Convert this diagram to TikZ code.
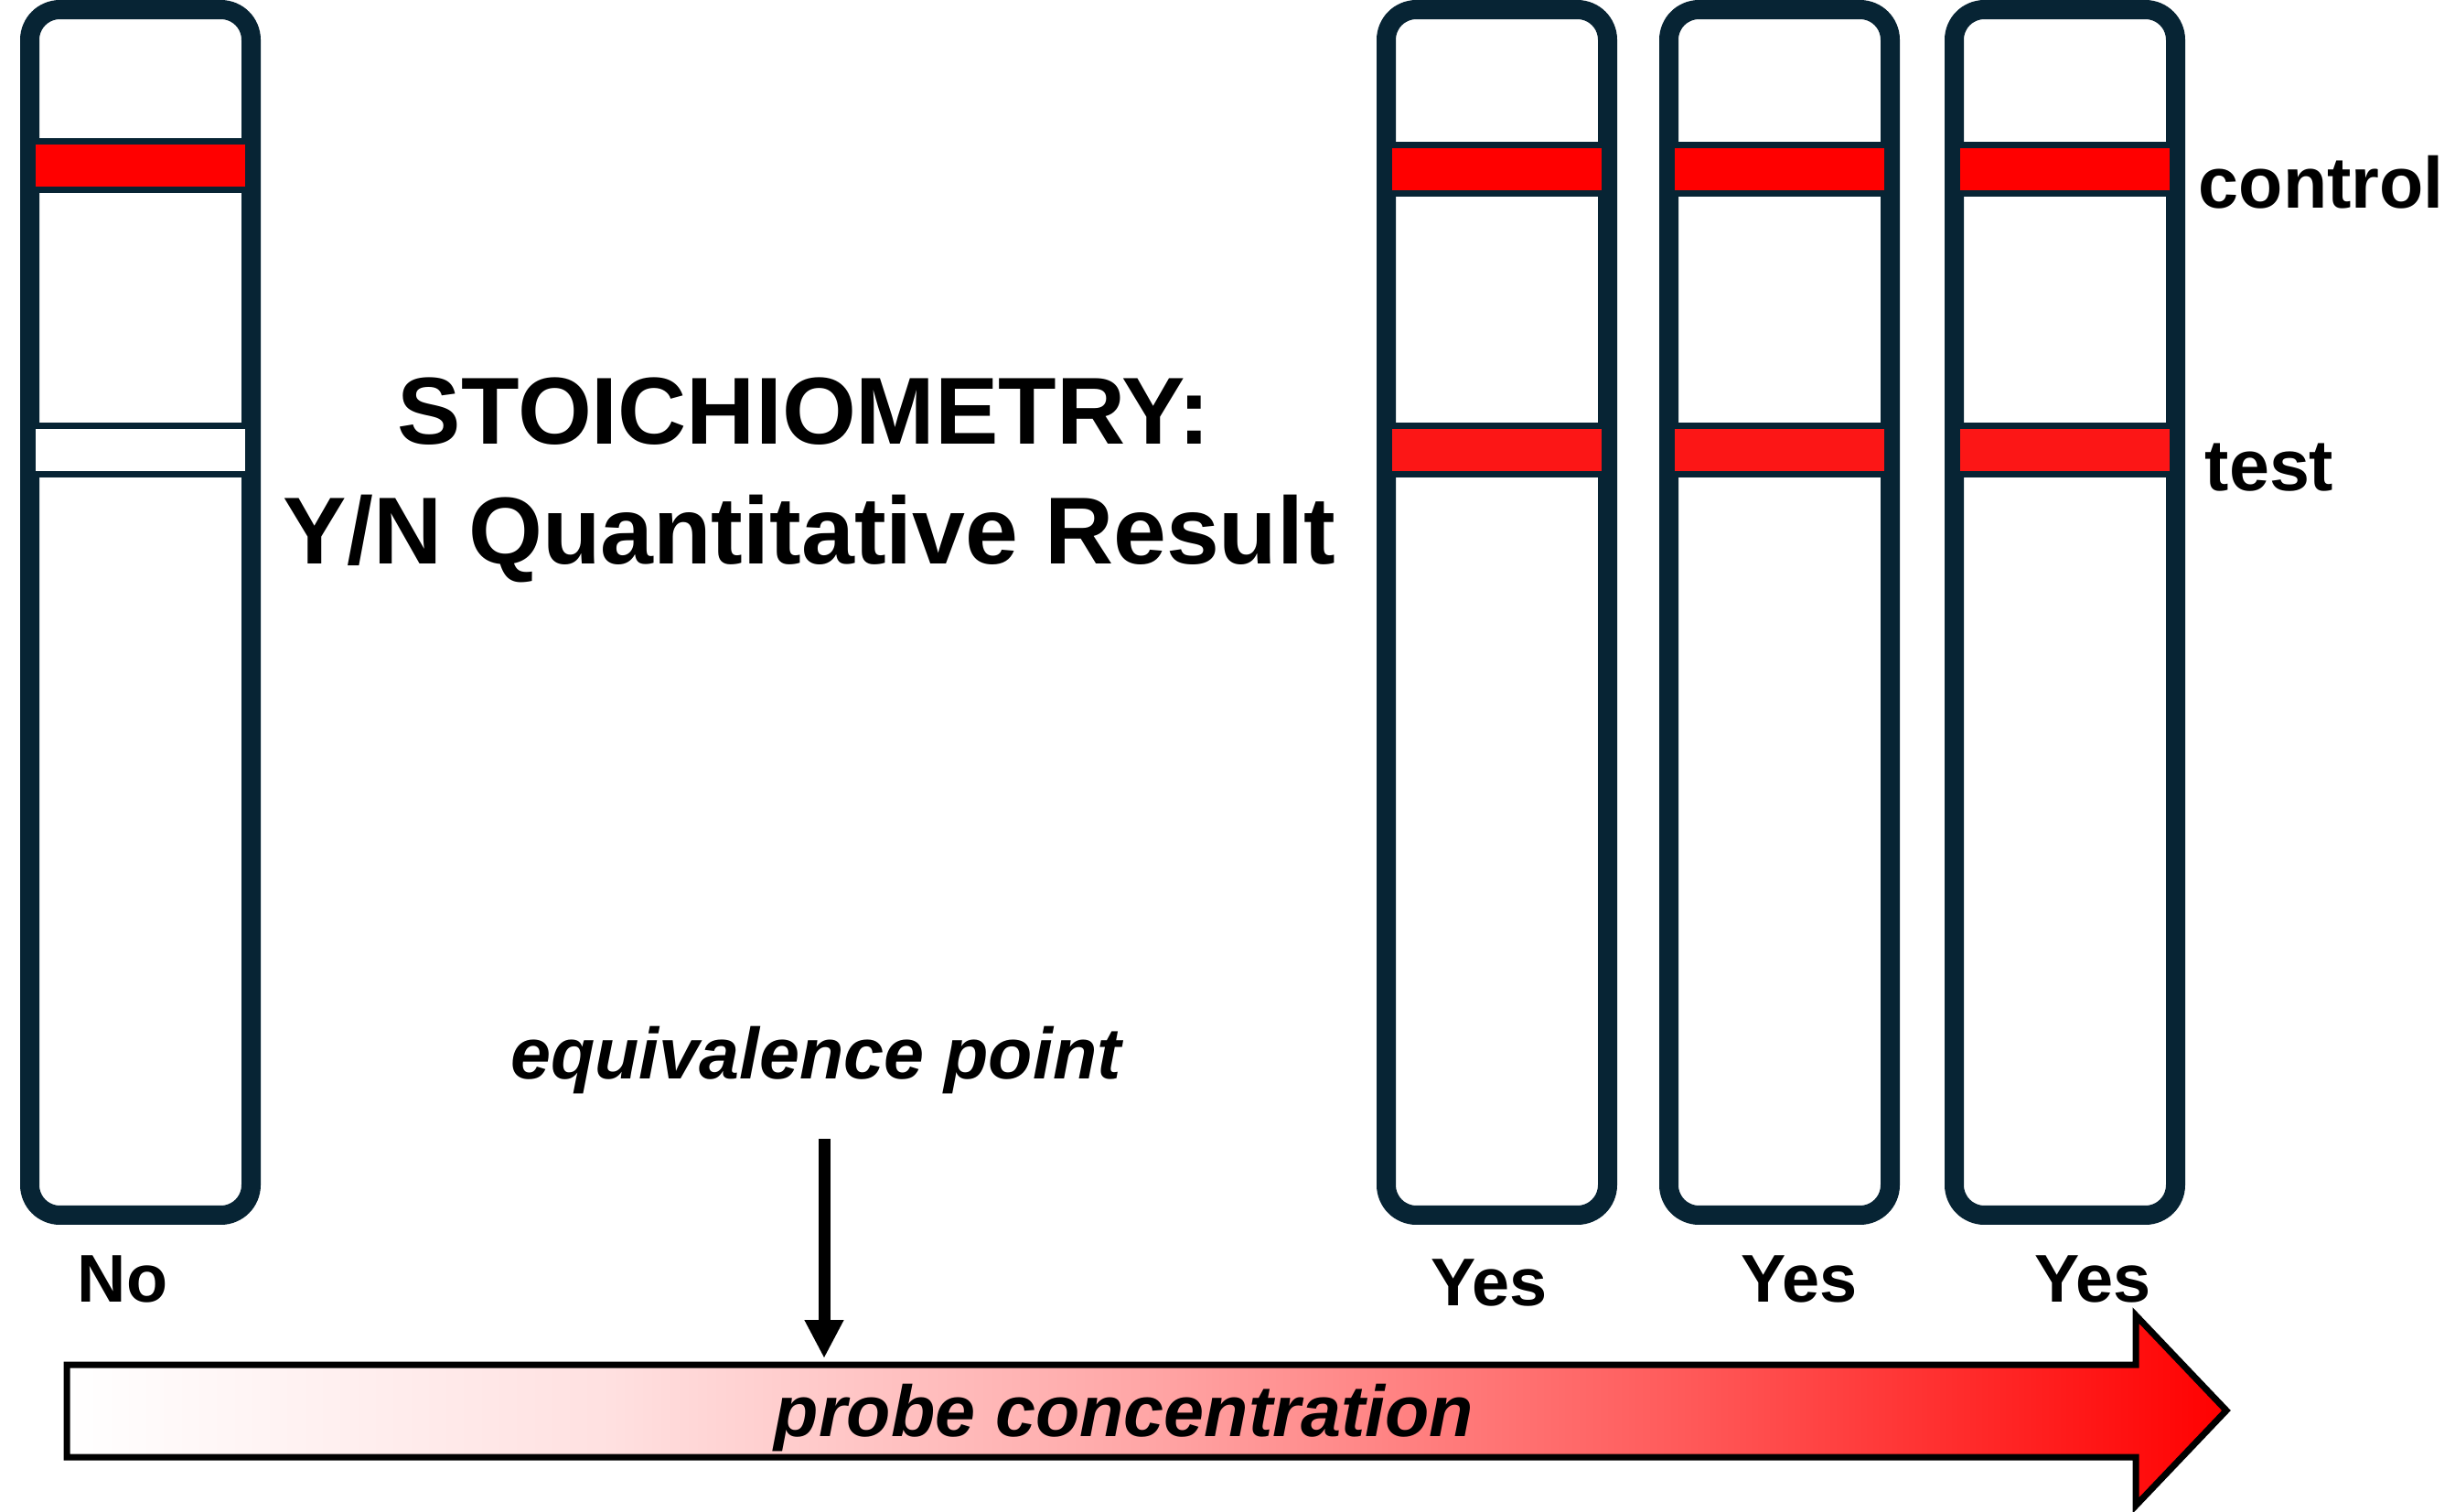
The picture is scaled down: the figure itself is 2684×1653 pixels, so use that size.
\documentclass[tikz,border=0pt]{standalone}
\usepackage{fontspec}
\setmainfont{Liberation Sans}
\usetikzlibrary{arrows.meta, positioning, calc}
\definecolor{cStrip}{RGB}{7, 36, 52}
\definecolor{cCtrl}{RGB}{255, 0, 0}
\definecolor{cTest}{RGB}{252, 22, 22}
\pgfdeclarehorizontalshading{probeShade}{100bp}{color(0bp)=(white); color(25bp)=(white); color(37.5bp)=(cCtrl!12); color(50bp)=(cCtrl!35); color(62.5bp)=(cCtrl!65); color(75bp)=(cCtrl); color(100bp)=(cCtrl)}
\tikzset{
    % test strips
    stripBox/.style={
        rectangle, rounded corners=0.33cm, draw=cStrip, line width=0.21cm,
        fill=white, minimum width=2.42cm, minimum height=13.18cm,
        inner sep=0pt, outer sep=0pt
    },
    % bands on a strip
    bandBox/.style={
        rectangle, draw=cStrip, line width=0.07cm,
        minimum width=2.36cm, minimum height=0.53cm, inner sep=0pt
    },
    ctrlBand/.style={bandBox, fill=cCtrl},
    testBand/.style={bandBox, fill=cTest},
    emptyBand/.style={bandBox, fill=white},
    % texts
    titleText/.style={font=\fontsize{29.6}{34}\selectfont\bfseries, inner sep=0pt, anchor=base},
    sideLabel/.style={font=\fontsize{22.5}{26}\selectfont\bfseries, inner sep=0pt, anchor=base west},
    resultLabel/.style={font=\fontsize{21}{24}\selectfont\bfseries, inner sep=0pt, anchor=base},
    noteText/.style={font=\fontsize{22.5}{26}\selectfont\bfseries\itshape, inner sep=0pt, anchor=base},
    % arrows
    eqArrow/.style={-{Triangle[width=0.40cm, length=0.42cm]}, line width=0.13cm},
    probeArrow/.style={draw=black, line width=0.07cm, shade, shading=probeShade}
}

\begin{document}
\begin{tikzpicture}[x=0.1mm, y=-0.1mm]

	\useasboundingbox (0,0) rectangle (2684,1653);

	% 1. strips
	\node[stripBox] (s1) at (153.5,669.5) {};
	\node[stripBox] (s2) at (1636.5,669.5) {};
	\node[stripBox, right=0.67cm of s2] (s3) {};
	\node[stripBox, right=0.70cm of s3] (s4) {};

	% 2. bands
	\node[ctrlBand] (s1-ctrl) at ($(s1.north)+(0,170.5)$) {};
	\node[emptyBand] (s1-test) at ($(s1.north)+(0,481.5)$) {};
	\foreach \s in {s2,s3,s4} {
		\node[ctrlBand] (\s-ctrl) at ($(\s.north)+(0,174.5)$) {};
		\node[testBand] (\s-test) at ($(\s.north)+(0,481.5)$) {};
	}

	% 3. labels
	\node[sideLabel] (ctrlLbl) at (2403,228) {control};
	\node[sideLabel] (testLbl) at (2410,537) {test};

	\node[resultLabel] (no1) at (134,1423) {No};
	\node[resultLabel] (yes2) at (1628,1427) {Yes};
	\node[resultLabel] (yes3) at (1967,1423) {Yes};
	\node[resultLabel] (yes4) at (2288,1423) {Yes};

	% 4. title
	\node[titleText] (titleTop) at (879,486) {STOICHIOMETRY:};
	\node[titleText] (titleBottom) at (885,617) {Y/N Quantitative Result};

	% 5. probe arrow
	\draw[probeArrow] (73,1492) -- (2335,1492) -- (2335,1438) -- (2434,1542)
		-- (2335,1646) -- (2335,1593) -- (73,1593) -- cycle;
	\node[noteText] (probe) at (1229,1570) {probe concentration};

	% 6. equivalence point
	\node[noteText] (eqpt) at (892,1179) {equivalence point};
	\coordinate (eqStart) at (901,1245);
	\coordinate (eqTip) at (901,1485);
	\draw[eqArrow] (eqStart) -- (eqTip);

\end{tikzpicture}
\end{document}
